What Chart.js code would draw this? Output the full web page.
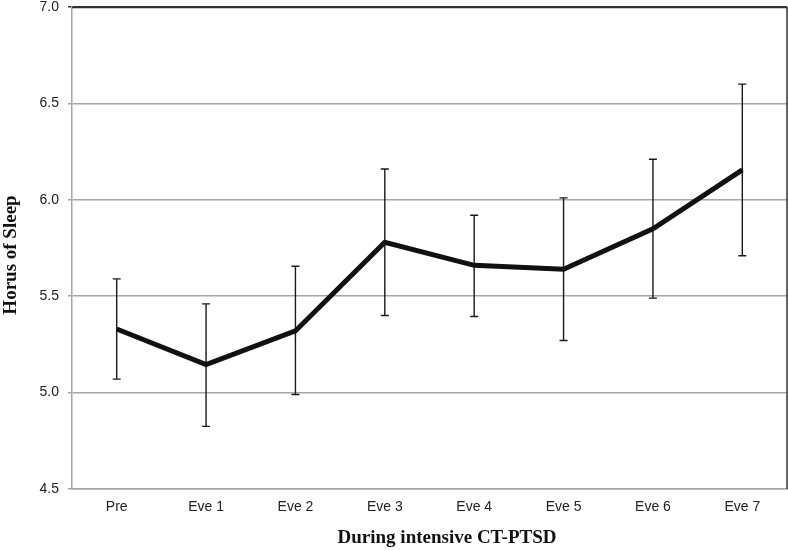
<!DOCTYPE html>
<html>
<head>
<meta charset="utf-8">
<script src="https://cdn.jsdelivr.net/npm/chart.js@4/dist/chart.umd.min.js"></script>
<style>
  html, body { margin: 0; padding: 0; background: #ffffff; }
  #wrap { width: 788px; height: 550px; }
</style>
</head>
<body>
<div id="wrap"><canvas id="c" width="788" height="550"></canvas></div>
<script>
// ---- data ----
const categories = ["Pre", "Eve 1", "Eve 2", "Eve 3", "Eve 4", "Eve 5", "Eve 6", "Eve 7"];
const meanHours = [5.33, 5.145, 5.32, 5.78, 5.66, 5.64, 5.85, 6.155];
const upperBar  = [5.59, 5.46, 5.655, 6.16, 5.92, 6.01, 6.21, 6.60];
const lowerBar  = [5.07, 4.825, 4.99, 5.40, 5.395, 5.27, 5.49, 5.71];
const yTicks = [4.5, 5.0, 5.5, 6.0, 6.5, 7.0];
const yTitle = "Horus of Sleep";
const xTitle = "During intensive CT-PTSD";

const errorBars = {
  id: 'errorBars',
  beforeDatasetsDraw(chart) {
    const ctx = chart.ctx;
    const xs = chart.scales.x, ys = chart.scales.y;
    ctx.save();
    ctx.strokeStyle = '#1a1a1a';
    ctx.lineWidth = 1.4;
    categories.forEach((c, i) => {
      const x = xs.getPixelForValue(i);
      const yt = ys.getPixelForValue(upperBar[i]);
      const yb = ys.getPixelForValue(lowerBar[i]);
      ctx.beginPath();
      ctx.moveTo(x, yt); ctx.lineTo(x, yb);
      ctx.moveTo(x - 4, yt); ctx.lineTo(x + 4, yt);
      ctx.moveTo(x - 4, yb); ctx.lineTo(x + 4, yb);
      ctx.stroke();
    });
    ctx.restore();
  }
};

const frame = {
  id: 'frame',
  beforeDraw(chart) {
    const ctx = chart.ctx;
    ctx.save();
    ctx.fillStyle = '#ffffff';
    ctx.fillRect(0, 0, chart.width, chart.height);
    ctx.restore();
  },
  afterDraw(chart) {
    const ctx = chart.ctx;
    const a = chart.chartArea;
    ctx.save();
    ctx.strokeStyle = '#333333';
    ctx.lineWidth = 1.5;
    ctx.beginPath();
    ctx.moveTo(a.left, a.top + 0.5);
    ctx.lineTo(a.right, a.top + 0.5);
    ctx.lineTo(a.right, a.bottom);
    ctx.stroke();
    // axis titles
    ctx.fillStyle = '#111111';
    ctx.font = 'bold 19px "Liberation Serif", "Times New Roman", serif';
    ctx.textAlign = 'center';
    ctx.textBaseline = 'middle';
    ctx.fillText(xTitle, 447, 538);
    ctx.translate(11, 255);
    ctx.rotate(-Math.PI / 2);
    ctx.fillText(yTitle, 0, 0);
    ctx.restore();
  }
};

new Chart(document.getElementById('c'), {
  type: 'line',
  data: {
    labels: categories,
    datasets: [{
      label: 'Hours of sleep',
      data: meanHours,
      borderColor: '#111111',
      borderWidth: 5,
      pointRadius: 0,
      pointHoverRadius: 0,
      tension: 0,
      fill: false,
      borderJoinStyle: 'miter'
    }]
  },
  options: {
    responsive: false,
    animation: false,
    events: [],
    layout: { padding: { left: 0, right: 1, top: 7, bottom: 0 } },
    plugins: {
      legend: { display: false },
      tooltip: { enabled: false },
      title: { display: false }
    },
    scales: {
      x: {
        type: 'category',
        offset: true,
        grid: { display: false, drawTicks: false },
        border: { display: true, color: '#a6a6a6', width: 1.5 },
        ticks: {
          padding: 10,
          color: '#222222',
          font: { family: '"Liberation Sans", Arial, sans-serif', size: 14 }
        },
        afterFit(scale) { scale.height = 61; scale.paddingLeft = 0; scale.paddingRight = 0; }
      },
      y: {
        min: 4.5,
        max: 7.0,
        afterBuildTicks(scale) { scale.ticks = yTicks.map(v => ({ value: v })); },
        grid: {
          color: (ctx) => (ctx.tick && ctx.tick.value === 7.0) ? '#333333' : '#a6a6a6',
          lineWidth: 1.5,
          drawTicks: true,
          tickLength: 4
        },
        border: { display: true, color: '#a6a6a6', width: 1.5 },
        ticks: {
          padding: 9,
          color: '#222222',
          font: { family: '"Liberation Sans", Arial, sans-serif', size: 14 },
          callback: (v) => Number(v).toFixed(1)
        },
        afterFit(scale) { scale.width = 72; scale.paddingTop = 0; scale.paddingBottom = 0; }
      }
    }
  },
  plugins: [frame, errorBars]
});
</script>
</body>
</html>
